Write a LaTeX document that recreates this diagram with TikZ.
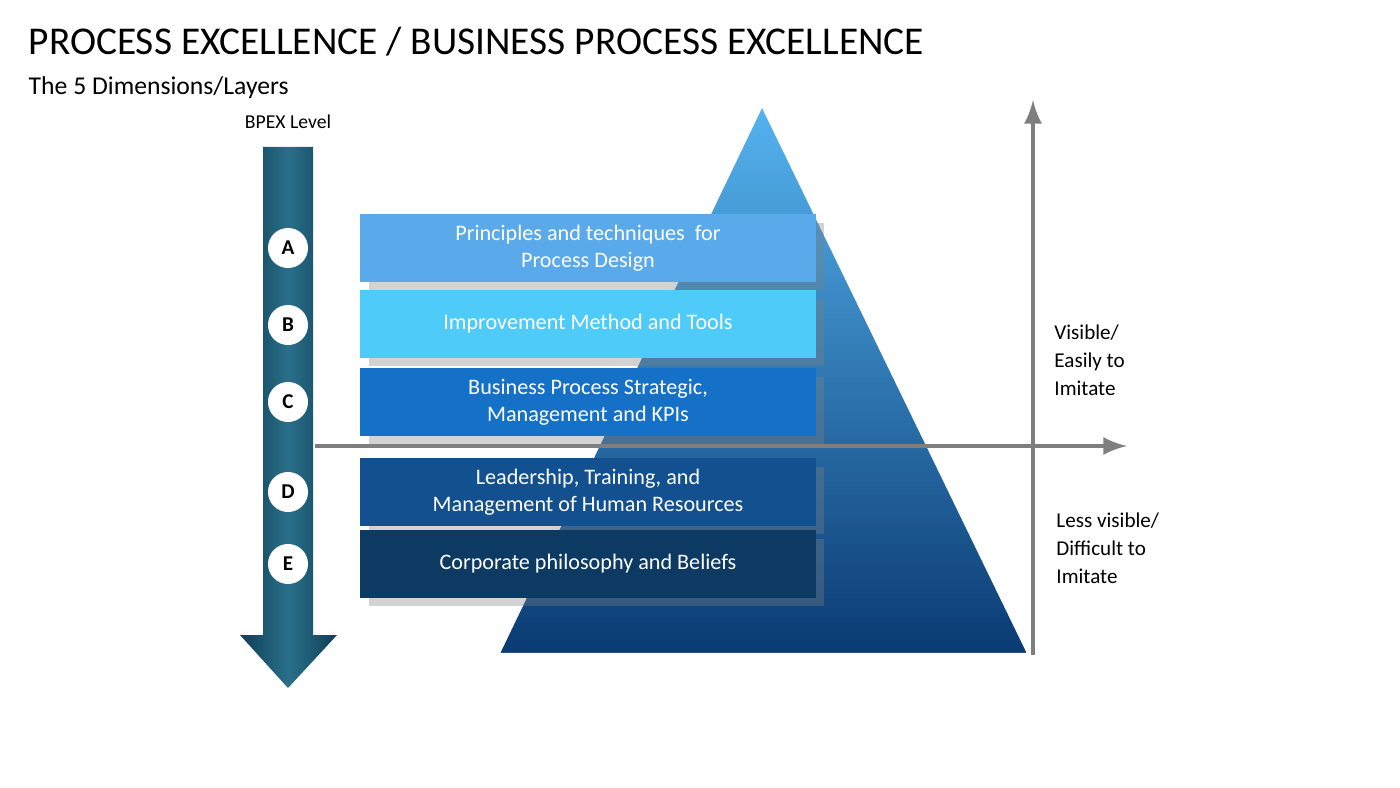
\documentclass[tikz,border=0pt]{standalone}
\usepackage{fontspec}
\setmainfont{Carlito}
\usepackage{tikz}
\usetikzlibrary{positioning,shadows}
\definecolor{arrowdark}{HTML}{0E3F55}
\definecolor{arrowlight}{HTML}{2A6F8A}
\definecolor{pyrtop}{HTML}{55B4F0}
\definecolor{pyrbot}{HTML}{0A3A72}
\definecolor{layerA}{HTML}{5AA9EA}
\definecolor{layerB}{HTML}{4ECBF8}
\definecolor{layerC}{HTML}{1571C8}
\definecolor{layerD}{HTML}{12508F}
\definecolor{layerE}{HTML}{0D3A63}
\definecolor{axisgrey}{HTML}{7F7F7F}

\begin{document}
\begin{tikzpicture}[
        x=0.01cm, y=-0.01cm,
        layer/.style={minimum width=4.55cm, minimum height=0.67cm, text=white, align=center,
            font=\fontsize{6.3pt}{7.6pt}\selectfont, inner sep=0pt, drop shadow={opacity=0.35}},
        level/.style={circle, fill=white, minimum size=0.4cm, inner sep=0pt, font=\fontsize{6pt}{7pt}\selectfont\bfseries},
        side/.style={align=left, anchor=north west, font=\fontsize{6pt}{8pt}\selectfont}
    ]
    \useasboundingbox (0,0) rectangle (1400,788);

    % titles
    \node[anchor=west, inner sep=0pt, font=\fontsize{11.2pt}{13pt}\selectfont] (title) at (28,42) {PROCESS EXCELLENCE / BUSINESS PROCESS EXCELLENCE};
    \node[anchor=west, inner sep=0pt, font=\fontsize{7.3pt}{9pt}\selectfont] (subtitle) at (28,88) {The 5 Dimensions/Layers};
    \node[inner sep=0pt, font=\fontsize{5.6pt}{7pt}\selectfont] (bpex) at (288,122) {BPEX Level};

    % pyramid
    \shade[top color=pyrtop, bottom color=pyrbot, draw=white, line width=1.2pt]
        (762,103) -- (1030,655) -- (497,655) -- cycle;

    % axes
    \coordinate (vbot) at (1033,655);
    \coordinate (vtop) at (1033,100);
    \coordinate (hleft) at (315,446);
    \coordinate (hright) at (1127,446);
    \draw[axisgrey, line width=1.3pt, -latex] (vbot) -- (vtop);
    \draw[axisgrey, line width=1.3pt, -latex] (hleft) -- (hright);

    % level arrow
    \shade[left color=arrowdark, right color=arrowdark, middle color=arrowlight]
        (263,147) -- (313,147) -- (313,635) -- (337,635) -- (288,688) -- (240,635) -- (263,635) -- cycle;

    % layers
    \node[layer, fill=layerA] (la) at (588,248) {Principles and techniques\ \ for\\Process Design};
    \node[layer, fill=layerB] (lb) at (588,324) {Improvement Method and Tools};
    \node[layer, fill=layerC] (lc) at (588,402) {Business Process Strategic,\\Management and KPIs};
    \node[layer, fill=layerD] (ld) at (588,492) {Leadership, Training, and\\Management of Human Resources};
    \node[layer, fill=layerE] (le) at (588,564) {Corporate philosophy and Beliefs};

    % level marks
    \foreach \name/\y in {A/248, B/325, C/402, D/492, E/564}
        \node[level] (c\name) at (288,\y) {\name};

    % side labels
    \node[side] (visible) at (1042,312) {Visible/\\Easily to\\Imitate};
    \node[side] (lessvisible) at (1044,500) {Less visible/\\Difficult to\\Imitate};

\end{tikzpicture}
\end{document}
